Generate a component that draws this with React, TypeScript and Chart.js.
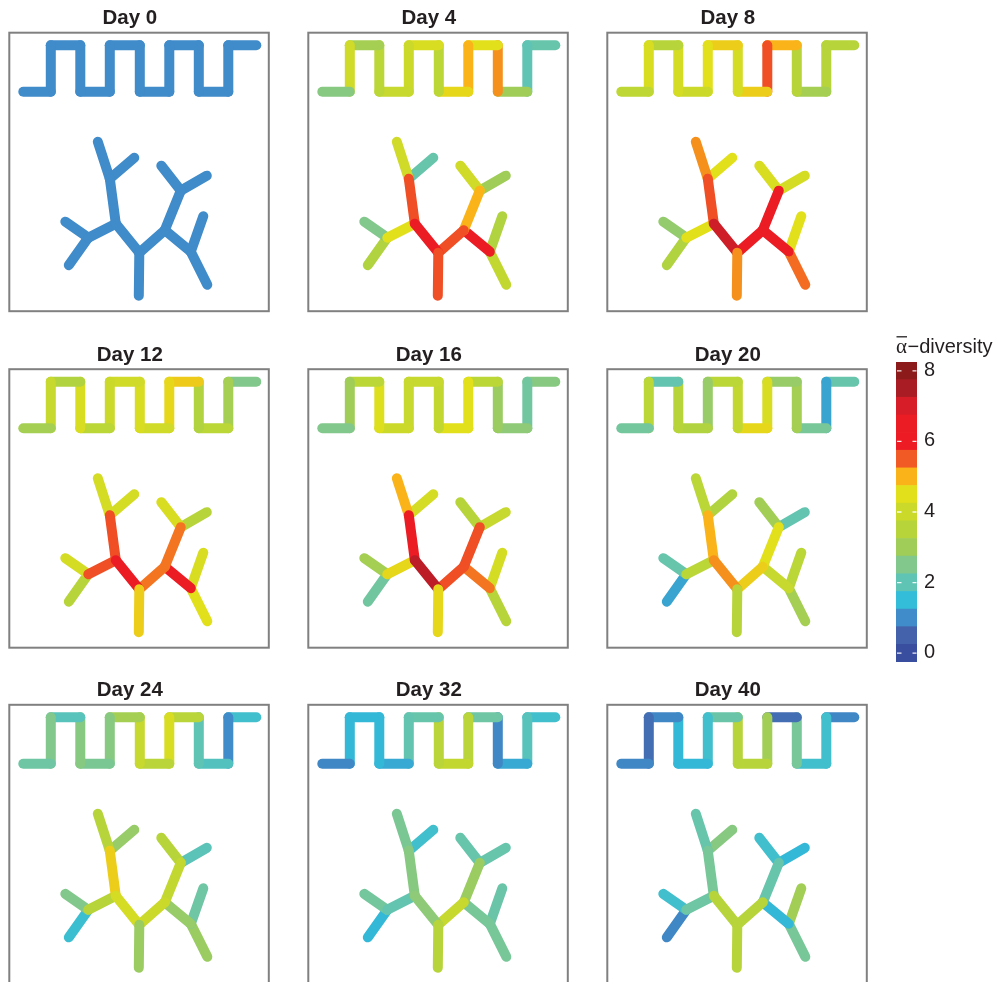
import React, { useEffect, useRef } from "react";
import { Chart, registerables } from "chart.js";

Chart.register(...registerables);

// ---- colour scale (alpha-diversity) ----
const LEVELS = [0, 0.5, 1, 1.5, 2, 2.5, 3, 3.5, 4, 4.5, 5, 5.5, 6, 6.5, 7, 7.5, 8];
const LEVEL_COLORS = [
  "#3a4ea0", "#4462ab", "#408bc9", "#33bdd8", "#60c4b4", "#82c88c",
  "#a0cd58", "#b7d53a", "#cbd92b", "#e2e01a", "#fab419", "#f15a24",
  "#ed1c24", "#eb1c24", "#d71e28", "#aa1c24", "#8c1a1b",
];
const TICK_VALUES = [0, 2, 4, 6, 8];

// ---- network layout (panel units, y pointing down) ----
// serpentine channel: consecutive nodes form the edges
const SERP_X = [14, 41.5, 41.5, 71, 71, 100.5, 100.5, 130.5, 130.5, 160, 160, 189.5, 189.5, 219, 219, 247];
const SERP_Y = [59, 59, 12.5, 12.5, 59, 59, 12.5, 12.5, 59, 59, 12.5, 12.5, 59, 59, 12.5, 12.5];

// branching tree: root, A, B, C, D, E, F, G, H, I, J, K, L, M, N, O
const TREE_X = [129.5, 130, 106.5, 100.5, 88.5, 125, 79, 56, 59.5, 155.5, 171.5, 152, 197.5, 181.5, 194, 198];
const TREE_Y = [263, 220, 191, 146, 109, 125, 205, 189, 232.5, 197.5, 158, 133, 143, 219, 183.5, 252];
const TREE_FROM = [0, 1, 2, 3, 3, 2, 6, 6, 1, 9, 10, 10, 9, 13, 13];
const TREE_TO = [1, 2, 3, 4, 5, 6, 7, 8, 9, 10, 11, 12, 13, 14, 15];

// ---- alpha-diversity per edge and day ----
const day0Serpentine = [1, 1, 1, 1, 1, 1, 1, 1, 1, 1, 1, 1, 1, 1, 1];
const day0Tree = [1, 1, 1, 1, 1, 1, 1, 1, 1, 1, 1, 1, 1, 1, 1];
const day4Serpentine = [2.6, 4.1, 3.1, 3.6, 3.9, 4.0, 4.3, 3.6, 4.6, 5.0, 4.5, 5.2, 3.0, 2.0, 2.1];
const day4Tree = [5.6, 6.2, 5.6, 4.1, 2.1, 4.5, 2.5, 3.4, 5.6, 5.0, 4.1, 3.0, 6.2, 3.4, 3.8];
const day8Serpentine = [3.7, 4.3, 3.5, 4.2, 4.0, 4.5, 4.7, 4.2, 4.7, 5.6, 5.0, 3.5, 3.1, 3.5, 3.5];
const day8Tree = [5.2, 7.1, 5.6, 5.2, 4.5, 4.5, 2.8, 3.4, 6.2, 6.2, 4.3, 4.2, 6.2, 4.5, 5.4];
const day12Serpentine = [3.1, 3.9, 3.4, 4.3, 3.6, 4.0, 4.1, 4.3, 4.1, 4.6, 4.75, 3.4, 3.6, 3.1, 2.5];
const day12Tree = [4.7, 6.2, 5.6, 4.2, 4.2, 5.6, 4.2, 3.5, 5.35, 5.35, 4.3, 3.5, 6.2, 4.3, 4.5];
const day16Serpentine = [2.5, 3.0, 3.6, 4.4, 4.0, 3.9, 3.9, 3.8, 4.5, 4.5, 3.6, 2.9, 2.7, 2.25, 2.6];
const day16Tree = [4.6, 7.3, 6.2, 5.0, 4.2, 4.6, 3.1, 2.25, 5.6, 5.6, 3.5, 3.9, 5.35, 4.2, 3.5];
const day20Serpentine = [2.3, 3.6, 2.05, 3.5, 3.4, 2.85, 3.6, 3.8, 4.6, 4.3, 2.85, 3.1, 2.35, 1.25, 2.1];
const day20Tree = [3.5, 5.2, 5.0, 3.6, 3.4, 3.6, 2.1, 1.25, 4.7, 4.5, 3.05, 2.05, 3.9, 3.6, 3.1];
const day24Serpentine = [2.2, 2.5, 1.9, 2.6, 2.4, 2.6, 3.1, 3.9, 3.55, 4.3, 3.55, 2.0, 1.85, 1.0, 1.65];
const day24Tree = [2.9, 4.2, 4.7, 3.5, 2.85, 3.5, 2.5, 1.6, 4.0, 3.8, 3.5, 1.95, 2.85, 2.2, 2.9];
const day32Serpentine = [0.95, 1.45, 1.45, 1.45, 1.3, 2.05, 2.1, 3.55, 3.8, 3.55, 2.2, 0.95, 1.3, 1.9, 1.65];
const day32Tree = [3.5, 2.7, 2.6, 2.4, 1.65, 2.05, 2.3, 1.45, 3.9, 2.9, 2.1, 2.1, 2.35, 2.15, 2.35];
const day40Serpentine = [0.95, 0.65, 0.95, 1.45, 1.45, 1.65, 2.15, 3.5, 3.5, 3.05, 0.65, 2.35, 1.65, 1.65, 0.95];
const day40Tree = [3.5, 3.5, 2.35, 2.1, 2.6, 2.2, 1.65, 0.95, 3.5, 2.1, 1.65, 1.45, 1.45, 3.05, 2.35];

const DAY_TITLES = ["Day 0", "Day 4", "Day 8", "Day 12", "Day 16", "Day 20", "Day 24", "Day 32", "Day 40"];
const SERPENTINE_BY_DAY = [
  day0Serpentine, day4Serpentine, day8Serpentine, day12Serpentine, day16Serpentine,
  day20Serpentine, day24Serpentine, day32Serpentine, day40Serpentine,
];
const TREE_BY_DAY = [day0Tree, day4Tree, day8Tree, day12Tree, day16Tree, day20Tree, day24Tree, day32Tree, day40Tree];

// ---- page geometry ----
const PANEL_LEFT = [9.3, 308.3, 607.3];
const PANEL_TOP = [32.7, 369.2, 704.8];
const PANEL_W = 259.5;
const PANEL_H = 278.5;
const EDGE_WIDTH = 10;

const SANS = '"Liberation Sans", Arial, Helvetica, sans-serif';
const SERIF = '"Liberation Serif", "DejaVu Serif", "Times New Roman", serif';
const TEXT_COLOR = "#231f20";

function hexToRgb(h: string): number[] {
  const n = parseInt(h.slice(1), 16);
  return [(n >> 16) & 255, (n >> 8) & 255, n & 255];
}

function alphaColor(v: number): string {
  const lo = LEVELS[0];
  const hi = LEVELS[LEVELS.length - 1];
  const t = Math.min(hi, Math.max(lo, v));
  let i = 0;
  while (i < LEVELS.length - 2 && t > LEVELS[i + 1]) i++;
  const f = (t - LEVELS[i]) / (LEVELS[i + 1] - LEVELS[i]);
  const a = hexToRgb(LEVEL_COLORS[i]);
  const b = hexToRgb(LEVEL_COLORS[i + 1]);
  const c = a.map((x, k) => Math.round(x + (b[k] - x) * f));
  return `rgb(${c[0]},${c[1]},${c[2]})`;
}

function edgeDataset(x1: number, y1: number, x2: number, y2: number, value: number) {
  return {
    data: [
      { x: x1, y: y1 },
      { x: x2, y: y2 },
    ],
    showLine: true,
    borderColor: alphaColor(value),
    borderWidth: EDGE_WIDTH,
    borderCapStyle: "round" as const,
    borderJoinStyle: "round" as const,
    pointRadius: 0,
    pointHoverRadius: 0,
    tension: 0,
    clip: false as const,
  };
}

function NetworkPanel({ index }: { index: number }) {
  const ref = useRef<HTMLCanvasElement | null>(null);
  const row = Math.floor(index / 3);
  const col = index % 3;
  const fl = PANEL_LEFT[col];
  const ft = PANEL_TOP[row];
  const cl = Math.floor(fl) - 8;
  const ct = Math.floor(ft) - 32;
  const cw = 276;
  const ch = 318;
  const padL = fl - cl;
  const padT = ft - ct;
  const padR = cw - padL - PANEL_W;
  const padB = ch - padT - PANEL_H;

  useEffect(() => {
    if (!ref.current) return;
    const serp = SERPENTINE_BY_DAY[index];
    const tree = TREE_BY_DAY[index];
    const datasets: any[] = [];
    serp.forEach((v, i) => {
      datasets.push(edgeDataset(SERP_X[i], SERP_Y[i], SERP_X[i + 1], SERP_Y[i + 1], v));
    });
    tree.forEach((v, i) => {
      const a = TREE_FROM[i];
      const b = TREE_TO[i];
      datasets.push(edgeDataset(TREE_X[a], TREE_Y[a], TREE_X[b], TREE_Y[b], v));
    });
    const title = DAY_TITLES[index];

    const decor = {
      id: "panelDecor",
      afterDraw(chart: Chart) {
        const { ctx, chartArea } = chart;
        ctx.save();
        ctx.strokeStyle = "#808080";
        ctx.lineWidth = 2;
        ctx.strokeRect(chartArea.left, chartArea.top, chartArea.right - chartArea.left, chartArea.bottom - chartArea.top);
        ctx.fillStyle = TEXT_COLOR;
        ctx.font = `bold 20.5px ${SANS}`;
        ctx.textAlign = "center";
        ctx.textBaseline = "alphabetic";
        ctx.fillText(title, chartArea.left + 120.5, chartArea.top - 8.5);
        ctx.restore();
      },
    };

    const chart = new Chart(ref.current, {
      type: "scatter",
      data: { datasets },
      options: {
        responsive: false,
        animation: false,
        devicePixelRatio: 1,
        events: [],
        layout: { padding: { left: padL, top: padT, right: padR, bottom: padB } },
        scales: {
          x: { type: "linear", display: false, min: 0, max: PANEL_W },
          y: { type: "linear", display: false, min: 0, max: PANEL_H, reverse: true },
        },
        plugins: {
          legend: { display: false },
          tooltip: { enabled: false },
          title: { display: false },
        },
      },
      plugins: [decor],
    });
    return () => chart.destroy();
  }, [index]);

  return (
    <canvas
      ref={ref}
      width={cw}
      height={ch}
      style={{ position: "absolute", left: cl, top: ct, width: cw, height: ch }}
    />
  );
}

function ColorBar() {
  const ref = useRef<HTMLCanvasElement | null>(null);
  const cl = 880;
  const ct = 330;
  const cw = 121;
  const ch = 340;

  useEffect(() => {
    if (!ref.current) return;
    const datasets = LEVELS.map((v, i) => ({
      data: [[v - 0.25, v + 0.25]],
      backgroundColor: LEVEL_COLORS[i],
      borderWidth: 0,
      grouped: false,
      barPercentage: 1,
      categoryPercentage: 1,
    }));

    const decor = {
      id: "barDecor",
      afterDraw(chart: Chart) {
        const { ctx, chartArea } = chart;
        const yScale = chart.scales.y;
        ctx.save();
        // tick marks inside the bar and labels
        ctx.strokeStyle = "rgba(255,255,255,0.9)";
        ctx.lineWidth = 1.3;
        ctx.fillStyle = TEXT_COLOR;
        ctx.font = `20px ${SANS}`;
        ctx.textAlign = "left";
        ctx.textBaseline = "middle";
        TICK_VALUES.forEach((t) => {
          const y = yScale.getPixelForValue(t);
          ctx.beginPath();
          ctx.moveTo(chartArea.left + 1, y);
          ctx.lineTo(chartArea.left + 5.5, y);
          ctx.moveTo(chartArea.right - 4.5, y);
          ctx.lineTo(chartArea.right - 0.5, y);
          ctx.stroke();
          ctx.fillText(String(t), chartArea.right + 7, y - 0.5);
        });
        // legend title: alpha with overline, then "-diversity"
        const base = chartArea.top - 8.7;
        ctx.textBaseline = "alphabetic";
        ctx.font = `21px ${SERIF}`;
        const aw = ctx.measureText("α").width;
        ctx.fillText("α", chartArea.left, base);
        ctx.strokeStyle = TEXT_COLOR;
        ctx.lineWidth = 1.3;
        ctx.beginPath();
        ctx.moveTo(chartArea.left + 0.5, base - 16.5);
        ctx.lineTo(chartArea.left + aw, base - 16.5);
        ctx.stroke();
        ctx.font = `20px ${SANS}`;
        ctx.fillText("\u2212diversity", chartArea.left + aw + 0.5, base);
        ctx.restore();
      },
    };

    const chart = new Chart(ref.current, {
      type: "bar",
      data: { labels: [""], datasets: datasets as any },
      options: {
        responsive: false,
        animation: false,
        devicePixelRatio: 1,
        events: [],
        layout: { padding: { left: 16, right: 84, top: 32, bottom: 8 } },
        scales: {
          x: { display: false },
          y: { type: "linear", display: false, min: -0.25, max: 8.25 },
        },
        plugins: {
          legend: { display: false },
          tooltip: { enabled: false },
          title: { display: false },
        },
      },
      plugins: [decor],
    });
    return () => chart.destroy();
  }, []);

  return (
    <canvas
      ref={ref}
      width={cw}
      height={ch}
      style={{ position: "absolute", left: cl, top: ct, width: cw, height: ch }}
    />
  );
}

export default function App() {
  return (
    <div style={{ position: "fixed", left: 0, top: 0, right: 0, bottom: 0, overflow: "hidden", background: "#ffffff" }}>
      {DAY_TITLES.map((_, i) => (
        <NetworkPanel key={i} index={i} />
      ))}
      <ColorBar />
    </div>
  );
}
